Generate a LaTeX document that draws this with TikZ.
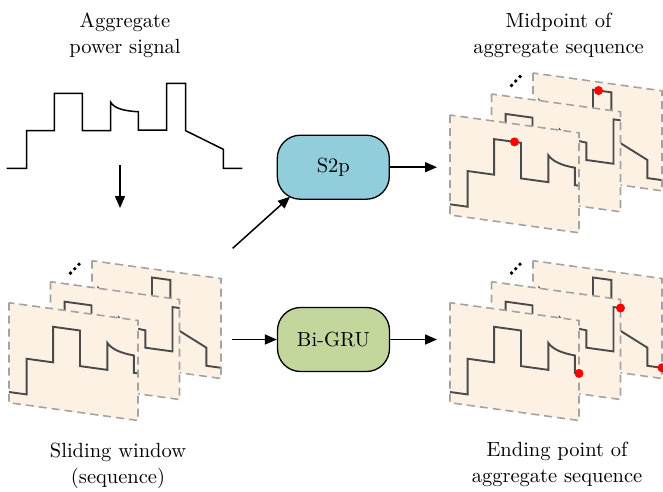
\documentclass[tikz,border=0pt]{standalone}
\usepackage{fontspec}
\setmainfont{lmroman10-regular.otf}
\usetikzlibrary{arrows.meta}

\definecolor{panelfill}{HTML}{FDF1E4}
\definecolor{paneledge}{HTML}{A3A3A3}
\definecolor{tracecol}{HTML}{4A4A4A}
\definecolor{sbox}{HTML}{92CDDC}
\definecolor{gbox}{HTML}{C3D69B}

\tikzset{
  panelborder/.style={draw=paneledge, line width=1.6pt, dash pattern=on 8pt off 5pt},
  trace/.style={draw=tracecol, line width=1.9pt},
  aggtrace/.style={draw=black, line width=1.5pt},
  flow/.style={-{Triangle[length=12pt,width=10pt]}, line width=1.5pt},
  model/.style={draw=black, line width=1.3pt, rounded corners=23pt,
    minimum width=112pt, minimum height=64pt, inner sep=0pt},
  txt/.style={align=center},
  reddot/.style={circle, fill=red, draw=none, inner sep=0pt, minimum size=9pt},
}

% one slanted window of the signal: #1 = offset of its corner, #2 = shift of the trace
\newcommand\windowpanel[2]{%
  \begin{scope}[shift={(#1)}, yslant=-0.138]
    \fill[panelfill] (0,0) rectangle (129,100);
    \begin{scope}
      \clip (0,0) rectangle (129,100);
      \draw[trace, shift={(#2,0)}] (-40,89.3) -- (17.6,89.3) -- (17.6,53.6)
        -- (44.1,53.6) -- (44.1,18) -- (71,18) -- (71,53.6) -- (98.3,53.6)
        -- (98.3,26.6) .. controls (102.5,32) and (111,35) .. (124.8,35.5)
        -- (124.8,52.9) -- (152,52.9) -- (152,8.5) -- (170.3,8.5)
        -- (170.3,53.6) -- (206.4,71.2) -- (206.4,89.3) -- (260,89.3);
    \end{scope}
    \draw[panelborder] (0,0) rectangle (129,100);
  \end{scope}}

% a stack of three windows: #1 = corner of the front window
\newcommand\windowstack[1]{%
  \begin{scope}[shift={(#1)}]
    \windowpanel{83,-42}{-92}
    \windowpanel{41.5,-21}{-30}
    \windowpanel{0,0}{0}
    \fill (61.5,-29.6) circle[radius=1.9pt] (65.7,-34) circle[radius=1.9pt]
          (70,-38.4) circle[radius=1.9pt];
  \end{scope}}

% a marked sample: #1 name, #2 stack corner, #3 window offset, #4 local point
\newcommand\markpoint[4]{%
  \begin{scope}[shift={(#2)}, shift={(#3)}, yslant=-0.138]
    \node[reddot] (#1) at (#4) {};
  \end{scope}}

\begin{document}
\begin{tikzpicture}[x=1pt, y=-1pt, font=\fontsize{20.5}{26}\selectfont]
\useasboundingbox (0,0) rectangle (663,491);

% aggregate power signal
\draw[aggtrace] (6.7,168.3) -- (26.7,168.3) -- (26.7,130.7) -- (54.3,130.7)
  -- (54.3,93.3) -- (82.3,93.3) -- (82.3,130.7) -- (110.7,130.7)
  -- (110.7,102.3) .. controls (114,108) and (123,111) .. (138.3,111.7)
  -- (138.3,130) -- (166.7,130) -- (166.7,83.3) -- (185.7,83.3)
  -- (185.7,130.7) -- (223.3,149.3) -- (223.3,168.3) -- (242.3,168.3);

% window stacks
\windowstack{9,302.7}
\windowstack{450,115}
\windowstack{450,302.7}

% midpoints
\markpoint{midA}{450,115}{0,0}{64.5,18}
\markpoint{midB}{450,115}{83,-42}{65.5,8.5}
% ending points
\markpoint{endA}{450,302.7}{0,0}{129,52.9}
\markpoint{endB}{450,302.7}{41.5,-21}{129,8.5}
\markpoint{endC}{450,302.7}{83,-42}{129,89.3}

% models
\node[model, fill=sbox] (s2p) at (333.3,167.2) {S2p};
\node[model, fill=gbox] (bigru) at (333.5,339.5) {Bi-GRU};

% captions
\node[txt] (agglabel) at (125,35) {Aggregate\\power signal};
\node[txt] (midlabel) at (558.5,35) {Midpoint of\\aggregate sequence};
\node[txt] (swlabel) at (118,466) {Sliding window\\(sequence)};
\node[txt] (endlabel) at (557,464) {Ending point of\\aggregate sequence};

% connectors
\coordinate (sigbot) at (120,165);
\coordinate (stacktop) at (120,208);
\coordinate (swup) at (232.7,248.3);
\coordinate (s2pin) at (290,196.7);
\coordinate (swright) at (232,339.5);
\coordinate (midin) at (437,167.2);
\coordinate (endin) at (437,339.5);

\draw[flow] (sigbot) -- (stacktop);
\draw[flow] (swup) -- (s2pin);
\draw[flow] (swright) -- (bigru.west);
\draw[flow] (s2p.east) -- (midin);
\draw[flow] (bigru.east) -- (endin);
\end{tikzpicture}
\end{document}
